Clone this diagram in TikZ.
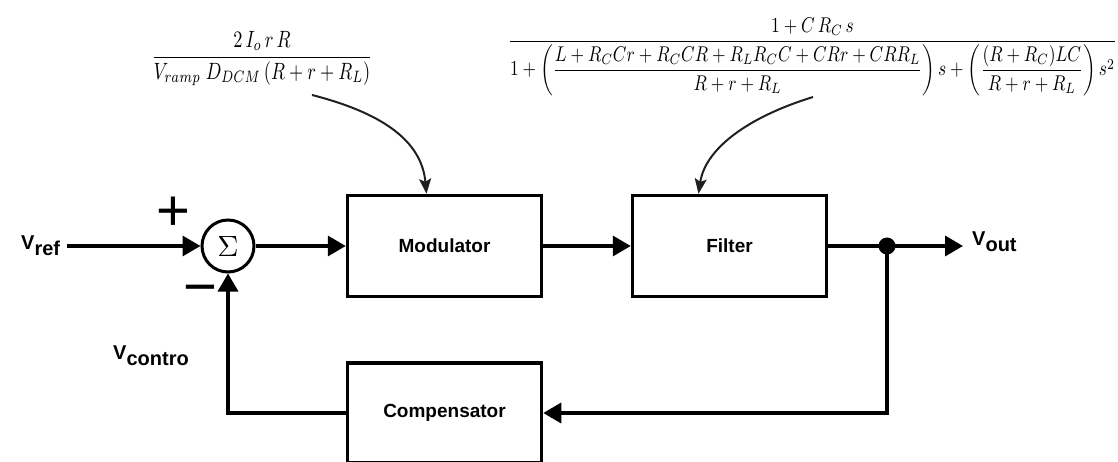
\documentclass[tikz,border=0pt]{standalone}
\usepackage{amsmath}
\usepackage{fontspec}
\setmainfont{Liberation Sans}
\usepackage{graphicx}
\usetikzlibrary{arrows.meta,calc}
\tikzset{
  blk/.style={draw, line width=3.5pt, minimum width=194pt, minimum height=101pt, inner sep=0pt, font=\fontsize{19}{22}\selectfont\bfseries},
  wire/.style={line width=3.5pt},
  conn/.style={wire, -{Triangle[length=18pt,width=20pt]}},
  curv/.style={line width=2pt, draw={rgb,255:red,35;green,31;blue,32}, -{Stealth[length=15pt,width=12pt,inset=3pt]}},
  lbl/.style={font=\fontsize{20}{24}\selectfont\bfseries, inner sep=0pt},
  sign/.style={font=\fontsize{58}{58}\selectfont, inner sep=0pt},
}
\newcommand{\sbs}[1]{\raisebox{-6pt}{#1}}
\begin{document}
\begin{tikzpicture}[x=1pt,y=-1pt]
\useasboundingbox (0,0) rectangle (1118,462);
\clip (0,0) rectangle (1118,462);
% formulas
\node[inner sep=0pt] (mf) at (262,58.5) {\resizebox*{221pt}{55pt}{$\displaystyle \frac{2\,I_o\,r\,R}{V_{ramp}\;D_{DCM}\left(R+r+R_L\right)}$}};
\node[inner sep=0pt] (ff) at (812.5,57) {\resizebox*{609pt}{78pt}{$\displaystyle \frac{1+C\,R_C\,s}{1+\left(\dfrac{L+R_C Cr+R_C CR+R_L R_C C+CRr+CRR_L}{R+r+R_L}\right)s+\left(\dfrac{(R+R_C)LC}{R+r+R_L}\right)s^2}$}};
% blocks
\node[draw, circle, line width=3pt, minimum size=52pt, inner sep=0pt] (sum) at (228,246) {\resizebox*{!}{20pt}{$\Sigma$}};
\node[blk] (mod) at (444.5,246) {Modulator};
\node[blk] (filt) at (729.5,246) {Filter};
\node[blk, minimum height=100pt] (comp) at (444.5,413) {Compensator};
% labels
\node[lbl, anchor=west] (vref) at (21,246) {V\sbs{ref}};
\node[lbl, anchor=west] (vout) at (972,242) {V\sbs{out}};
\node[lbl, anchor=west] (vctl) at (113,356) {V\sbs{contro}};
\node[sign] (plus) at (173,214) {+};
\node[sign] (minus) at (200,296) {−};
% coordinates
\coordinate (vin) at (67,246);
\coordinate (dot) at (887,246);
\coordinate (vo) at (963,246);
% connectors
\draw[conn] (vin) -- (sum.west);
\draw[conn] (sum.east) -- (mod.west);
\draw[conn] (mod.east) -- (filt.west);
\draw[wire] (filt.east) -- (dot);
\draw[conn] (dot) -- (vo);
\draw[conn] (dot) |- (comp.east);
\draw[conn] (comp.west) -| (sum.south);
\fill (dot) circle (8.5pt);
% curved arrows
\coordinate (ms) at (312,95);
\coordinate (fs) at (813,97);
\draw[curv] (ms) .. controls (390,115) and (422,145) .. ([xshift=-18pt]mod.north);
\draw[curv] (fs) .. controls (745,118) and (705,150) .. ([xshift=-31pt]filt.north);
\end{tikzpicture}
\end{document}
